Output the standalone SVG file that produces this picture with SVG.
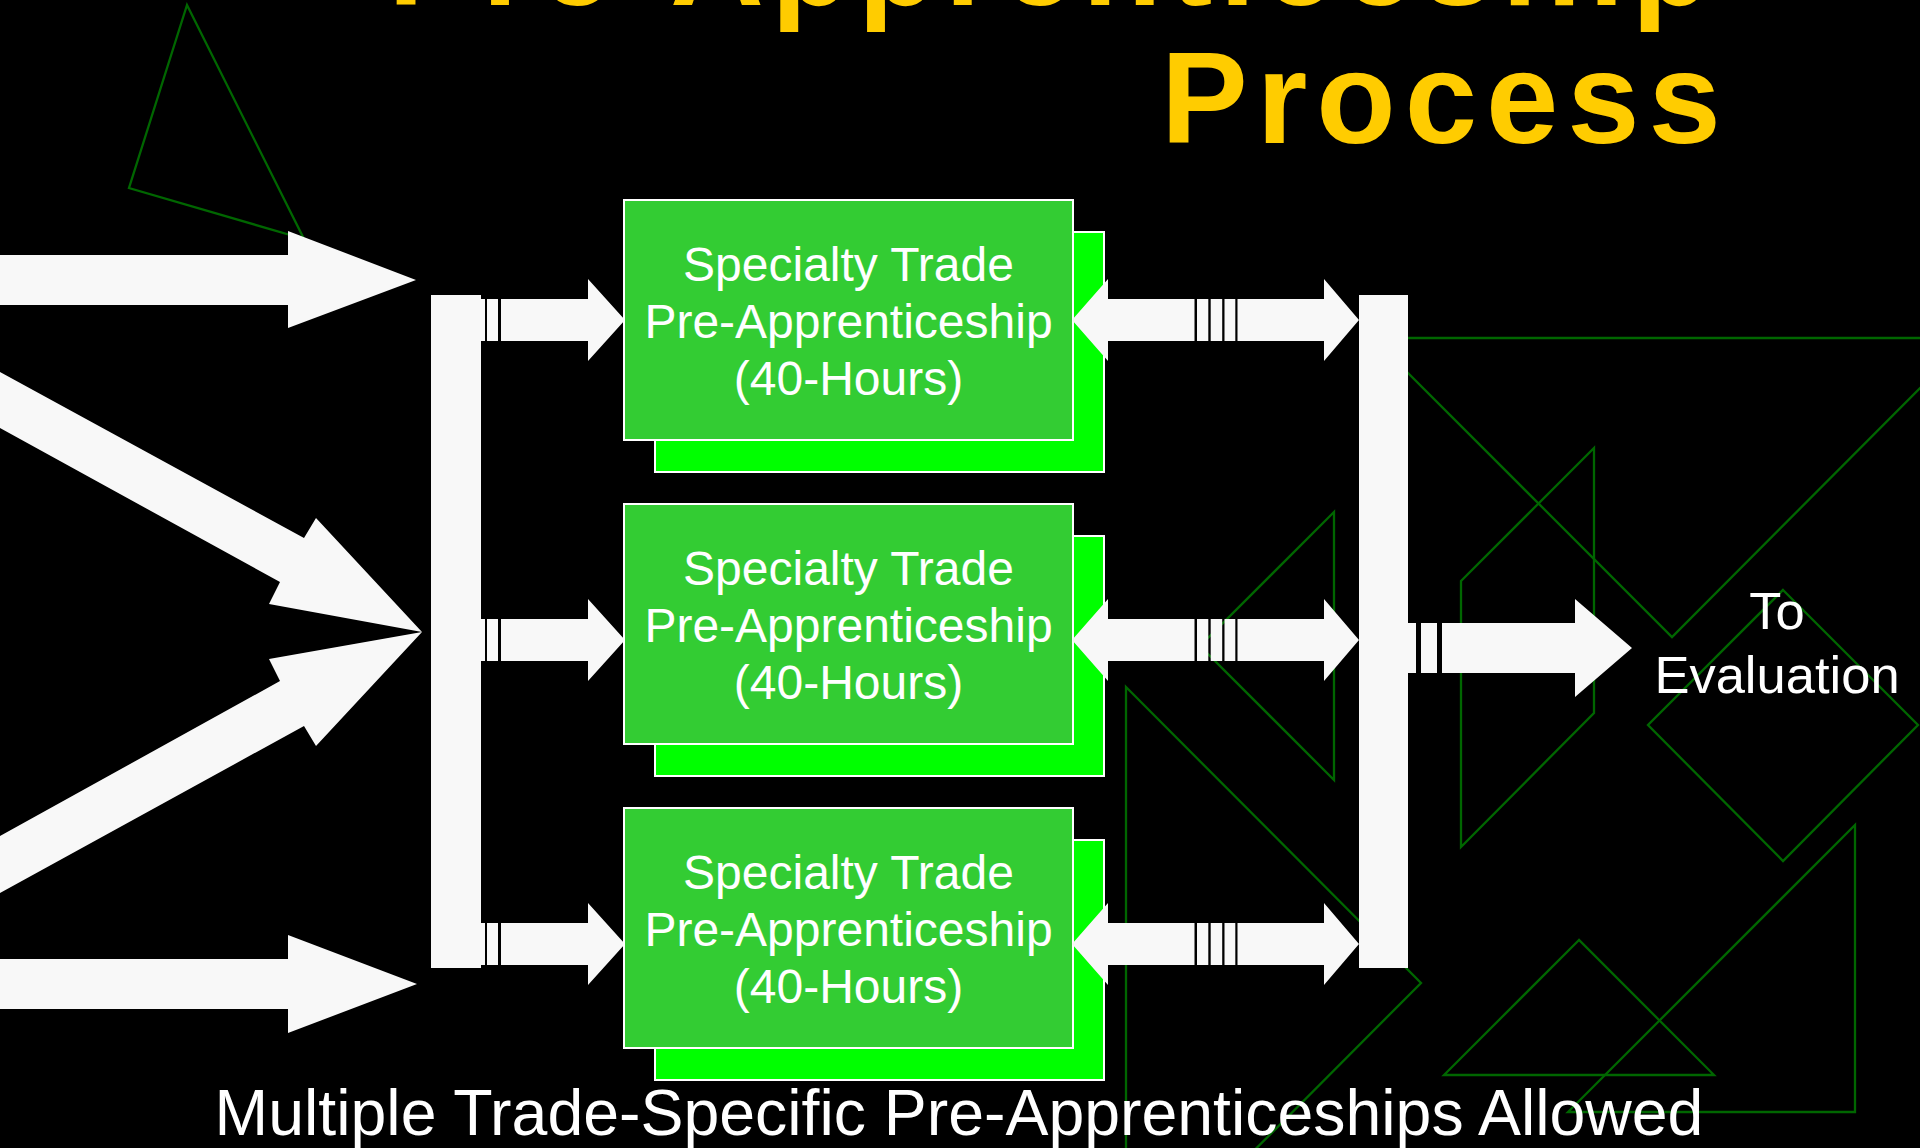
<svg xmlns="http://www.w3.org/2000/svg" xmlns:xlink="http://www.w3.org/1999/xlink" width="1920" height="1148" viewBox="0 0 1920 1148">
<style>
.deco{fill:none;stroke:#006600;stroke-width:2.3;stroke-linejoin:miter}
.w{fill:#F8F8F8}
.box{fill:#33CC33;stroke:#FFFFFF;stroke-width:2}
.shadow{fill:#00FF00;stroke:#FFFFFF;stroke-width:2}
.title{font-family:"Liberation Sans",Arial,sans-serif;font-weight:bold;font-size:130px;fill:#FFCC00}
.lbl{font-family:"Liberation Sans",Arial,sans-serif;font-size:48px;fill:#FFFFFF;text-anchor:middle}
.eval{font-family:"Liberation Sans",Arial,sans-serif;font-size:52.5px;fill:#FFFFFF;text-anchor:middle}
.foot{font-family:"Liberation Sans",Arial,sans-serif;font-size:64.4px;fill:#FFFFFF;text-anchor:middle}
</style>
<defs>
<g id="feed">
<rect class="w" x="481" y="299" width="4" height="42"/>
<rect class="w" x="487" y="299" width="11" height="42"/>
<polygon class="w" points="501,299 588,299 588,279 625,320 588,361 588,341 501,341"/>
</g>
<g id="dbl">
<polygon class="w" points="1072,320 1108,279 1108,299 1194.5,299 1194.5,341 1108,341 1108,361"/>
<rect class="w" x="1197" y="299" width="11.3" height="42"/>
<rect class="w" x="1210.7" y="299" width="11.5" height="42"/>
<rect class="w" x="1224.5" y="299" width="10.8" height="42"/>
<polygon class="w" points="1237.5,299 1324,299 1324,279 1359,320 1324,361 1324,341 1237.5,341"/>
</g>
</defs>
<rect x="0" y="0" width="1920" height="1148" fill="#000000"/>
<g id="decorations">
<polygon class="deco" points="187,5 129,188 304,239"/>
<polygon class="deco" points="1373,338 1672,637 1970,338"/>
<polygon class="deco" points="1461,581 1594,448 1594,713 1461,847"/>
<polygon class="deco" points="1783,590 1918,725 1783,861 1648,725"/>
<polygon class="deco" points="1579,940 1444,1075 1714,1075"/>
<polygon class="deco" points="1855,825 1855,1112 1568,1112"/>
<polygon class="deco" points="1126,687 1421,983 1126,1279"/>
<polygon class="deco" points="1334,512 1200,646 1334,780"/>
</g>
<g id="title">
<text class="title" x="388" y="4.5" letter-spacing="7.3">Pre-Apprenticeship</text>
<text class="title" x="1161" y="143" letter-spacing="9">Process</text>
</g>
<g id="connectors">
<polygon class="w" points="0,255 288,255 288,231 416,280 288,328 288,305 0,305"/>
<polygon class="w" points="0,372 304,538 316,518 422,632 269,604 280,582 0,428"/>
<polygon class="w" points="0,836 280,681 269,659 422,632 316,746 304,726 0,893"/>
<polygon class="w" points="0,959 288,959 288,935 417,984 288,1033 288,1009 0,1009"/>
<use xlink:href="#feed"/>
<use xlink:href="#feed" transform="translate(0,320)"/>
<use xlink:href="#feed" transform="translate(0,624)"/>
</g>
<g id="bar-left"><rect class="w" x="431" y="295" width="50" height="673"/></g>
<g id="box1">
<rect class="shadow" x="655" y="232" width="449" height="240"/>
<rect class="box" x="624" y="200" width="449" height="240"/>
<text class="lbl" x="848.5" y="281">Specialty Trade</text>
<text class="lbl" x="848.5" y="338">Pre-Apprenticeship</text>
<text class="lbl" x="848.5" y="395">(40-Hours)</text>
</g>
<g id="box2">
<rect class="shadow" x="655" y="536" width="449" height="240"/>
<rect class="box" x="624" y="504" width="449" height="240"/>
<text class="lbl" x="848.5" y="585">Specialty Trade</text>
<text class="lbl" x="848.5" y="642">Pre-Apprenticeship</text>
<text class="lbl" x="848.5" y="699">(40-Hours)</text>
</g>
<g id="box3">
<rect class="shadow" x="655" y="840" width="449" height="240"/>
<rect class="box" x="624" y="808" width="449" height="240"/>
<text class="lbl" x="848.5" y="889">Specialty Trade</text>
<text class="lbl" x="848.5" y="946">Pre-Apprenticeship</text>
<text class="lbl" x="848.5" y="1003">(40-Hours)</text>
</g>
<g id="connectors-right">
<use xlink:href="#dbl"/>
<use xlink:href="#dbl" transform="translate(0,320)"/>
<use xlink:href="#dbl" transform="translate(0,624)"/>
<rect class="w" x="1408" y="623" width="8" height="50"/>
<rect class="w" x="1421" y="623" width="16" height="50"/>
<polygon class="w" points="1442,623 1575,623 1575,599 1632,648 1575,697 1575,673 1442,673"/>
</g>
<g id="bar-right"><rect class="w" x="1359" y="295" width="49" height="673"/></g>
<g id="evaluation">
<text class="eval" x="1777" y="629">To</text>
<text class="eval" x="1777" y="693">Evaluation</text>
</g>
<g id="footer">
<text class="foot" x="959" y="1135">Multiple Trade-Specific Pre-Apprenticeships Allowed</text>
</g>
</svg>
